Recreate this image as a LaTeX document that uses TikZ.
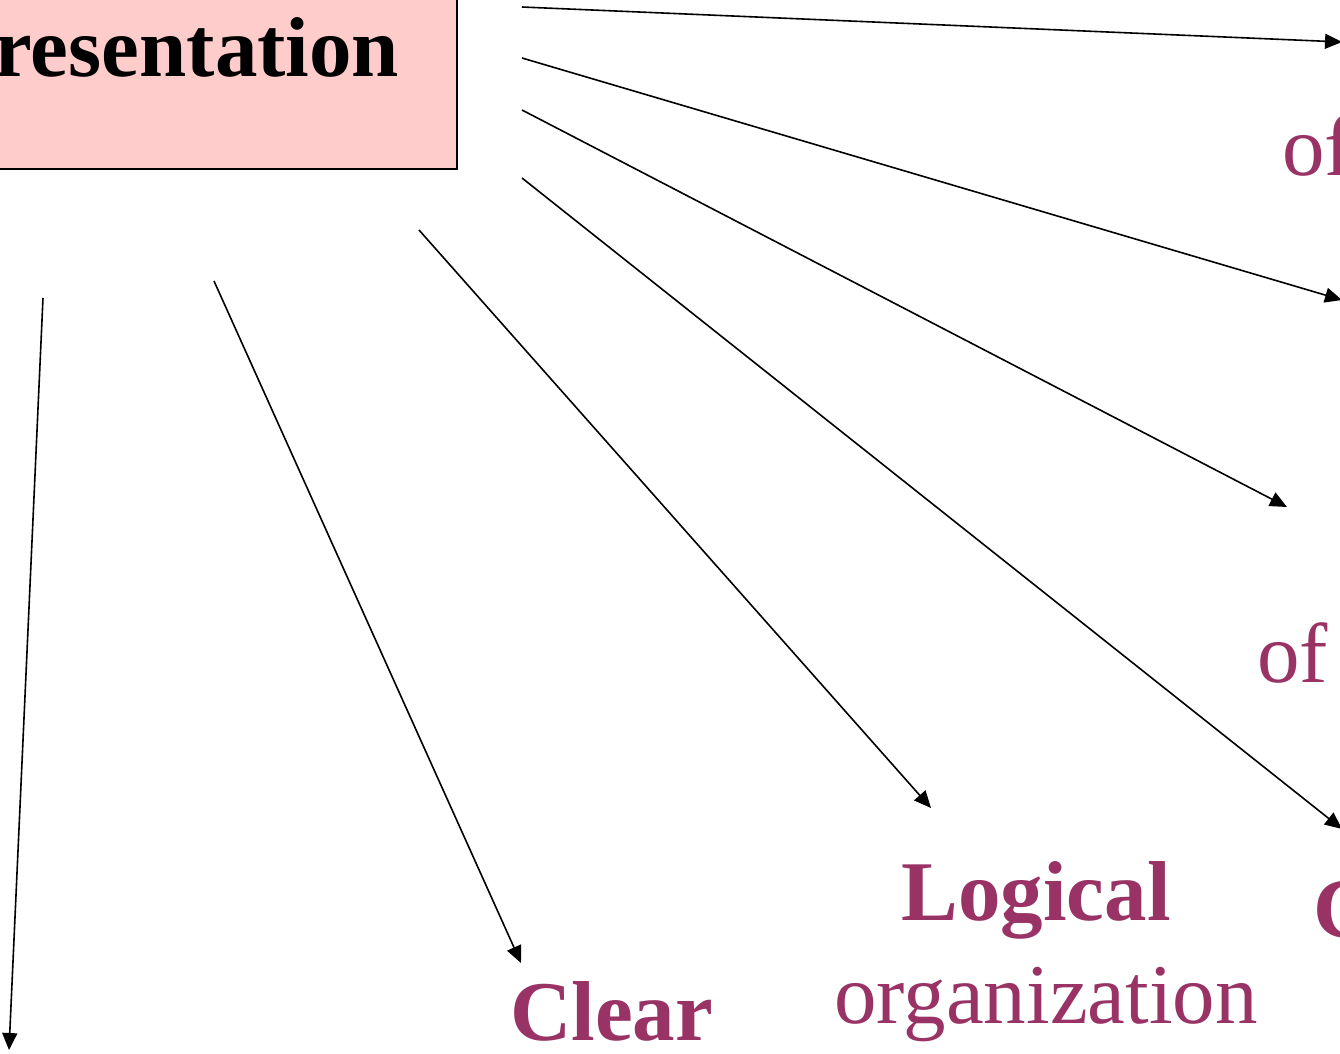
\documentclass[tikz,border=0pt]{standalone}
\usepackage{fontspec}
\setmainfont{Liberation Serif}
\usepackage{tikz}
\usetikzlibrary{arrows.meta,positioning}
\definecolor{plum}{HTML}{993366}
\definecolor{boxpink}{HTML}{FFCCCC}

\begin{document}
\begin{tikzpicture}[
    x=1pt, y=-1pt,
    >={Triangle[length=17pt,width=15pt]},
    font=\fontsize{85}{90}\selectfont,
    title/.style={
		rectangle,
		draw=black,
		line width=1.6pt,
		fill=boxpink,
		font=\fontsize{85}{90}\selectfont\bfseries,
		inner xsep=58pt,
		inner ysep=92pt
	},
	term/.style={
		text=plum,
		inner sep=0pt
	},
	keyterm/.style={
		term,
		font=\fontsize{85}{90}\selectfont\bfseries
	},
	link/.style={
		->,
		line width=1.6pt
	}
  ]
  \useasboundingbox (0,0) rectangle (1340,1053);
  \clip (0,0) rectangle (1340,1053);

    % the main box
  \node [title, anchor=south east] (pres) at (458,170) {Presentation};

    % the words at the arrow ends
  \node [term, anchor=base west] (of1) at (1282,175) {of};
  \node [term, anchor=base west] (of2) at (1257,682) {of};
  \node [keyterm, anchor=base west] (cterm) at (1313,937) {C};
  \node [keyterm, anchor=base] (logical) at (1036,920) {Logical};
  \node [term, anchor=base] (organ) at (1046,1023) {organization};
  \node [keyterm, anchor=base west] (clear) at (510,1040) {Clear};

    % start and end points of the arrows
  \coordinate (s1) at (522,7);    \coordinate (e1) at (1342,42);
  \coordinate (s2) at (522,58);   \coordinate (e2) at (1342,300);
  \coordinate (s3) at (522,110);  \coordinate (e3) at (1287,507);
  \coordinate (s4) at (522,178);  \coordinate (e4) at (1342,829);
  \coordinate (s5) at (419,230);  \coordinate (e5) at (931,808);
  \coordinate (s6) at (214,281);  \coordinate (e6) at (521,963);
  \coordinate (s7) at (43,298);   \coordinate (e7) at (9,1050);

  \foreach \i in {1,...,7}
    \draw [link] (s\i) -- (e\i);

\end{tikzpicture}
\end{document}
